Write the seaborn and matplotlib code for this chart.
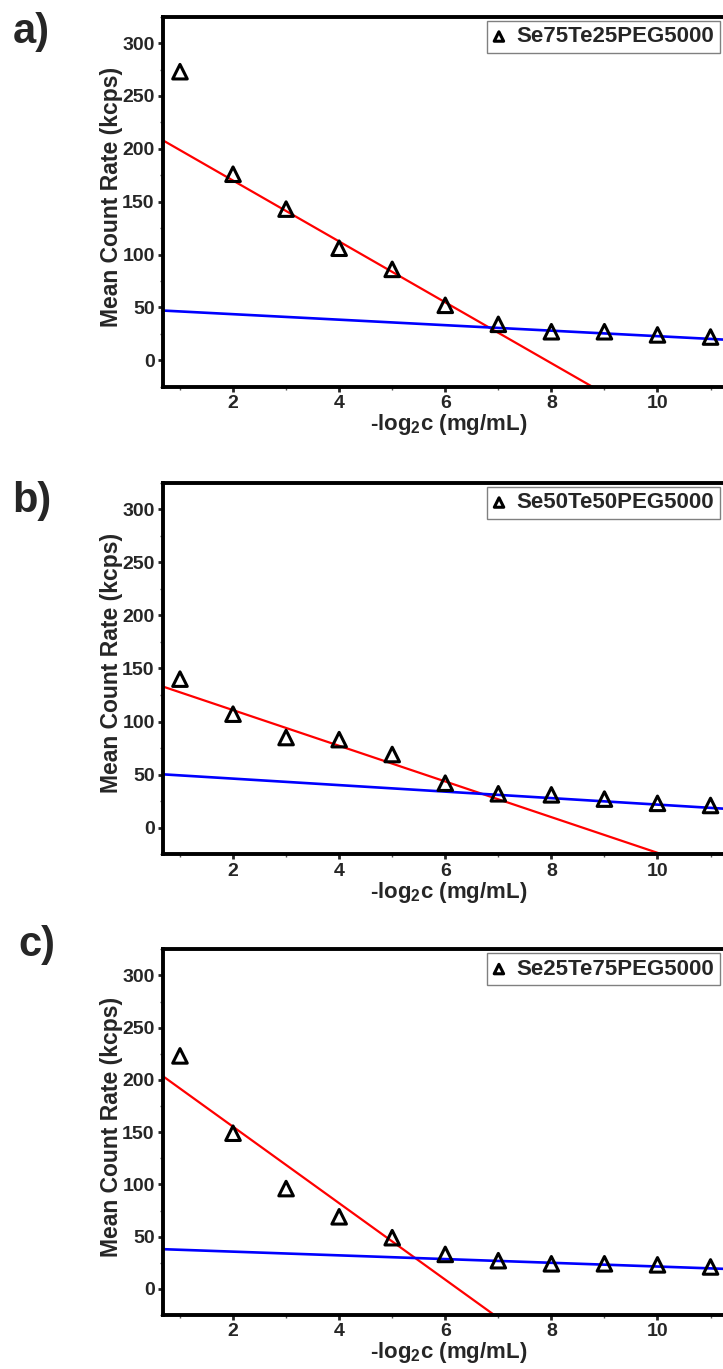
import numpy as np
import pandas as pd
import seaborn as sns
import matplotlib.pyplot as plt
from matplotlib.ticker import MultipleLocator, FixedLocator

# ----------------- data

conc_log2 = [1, 2, 3, 4, 5, 6, 7, 8, 9, 10, 11]
x_ticks = [2, 4, 6, 8, 10]

samples = ["Se75Te25PEG5000", "Se50Te50PEG5000", "Se25Te75PEG5000"]
panel_tags = ["a)", "b)", "c)"]

rate_a = [273, 176, 143, 106, 86, 52, 34, 27, 27, 24, 22]
rate_b = [140, 107, 85, 83, 69, 42, 32, 31, 27, 23, 21]
rate_c = [223, 149, 96, 69, 49, 33, 27, 24, 24, 23, 21]

# linear fits: (slope, intercept)
fit_high = [(-28.8, 227.6), (-16.8, 144.4), (-36.6, 228.4)]  # red
fit_low = [(-2.6, 48.8), (-3.06, 52.4), (-1.78, 39.2)]  # blue

# ----------------- style

sns.set_style("ticks")
plt.rcParams["font.family"] = ["Liberation Sans", "DejaVu Sans"]
plt.rcParams["font.weight"] = "bold"
plt.rcParams["mathtext.fontset"] = "custom"
plt.rcParams["mathtext.rm"] = "Liberation Sans:bold"
plt.rcParams["mathtext.bf"] = "Liberation Sans:bold"
plt.rcParams["mathtext.default"] = "bf"

W, H = 723, 1369
fig = plt.figure(figsize=(W / 100, H / 100), dpi=100)

# axes boxes in pixels: (top, bottom)
boxes = [(16.7, 386.7), (482.7, 854.3), (949.3, 1315.0)]
tag_pos = [(31, 32), (32, 501), (37, 945)]
left_px, width_px = 163, 600.6

for i, (top, bottom) in enumerate(boxes):
    ax = fig.add_axes(
        [left_px / W, 1 - bottom / H, width_px / W, (bottom - top) / H]
    )
    df = pd.DataFrame({"x": conc_log2, "y": [rate_a, rate_b, rate_c][i]})

    m, b = fit_high[i]
    ax.axline((0, b), slope=m, color="#ff0000", lw=1.6, zorder=2)
    m, b = fit_low[i]
    ax.axline((0, b), slope=m, color="#0000ff", lw=1.9, zorder=2)

    sns.scatterplot(
        data=df, x="x", y="y", ax=ax, marker="^", s=110,
        facecolor="none", edgecolor="black", linewidth=2.2,
        label=samples[i], zorder=3,
    )

    ax.set_xlim(0.68, 12)
    ax.set_ylim(-25, 325)
    ax.xaxis.set_major_locator(FixedLocator(x_ticks))
    ax.xaxis.set_minor_locator(FixedLocator([1, 3, 5, 7, 9, 11]))
    ax.yaxis.set_major_locator(MultipleLocator(50))
    ax.yaxis.set_minor_locator(MultipleLocator(25))
    ax.tick_params(which="major", direction="out", length=3.5, width=2,
                   labelsize=14, pad=2.5)
    ax.tick_params(which="minor", direction="out", length=2, width=1,
                   color="#555555")
    for lab in ax.get_xticklabels() + ax.get_yticklabels():
        lab.set_fontweight("bold")
    for sp in ax.spines.values():
        sp.set_linewidth(2.8)
        sp.set_color("black")

    ax.set_xlabel(r"-log$_2$c (mg/mL)", fontsize=16, fontweight="bold")
    ax.xaxis.set_label_coords(0.476, -0.068)
    ax.set_ylabel("Mean Count Rate (kcps)", fontsize=16.5, fontweight="bold",
                  va="center")
    ax.yaxis.set_label_coords(-0.085, 0.514)

    leg = ax.legend(
        loc="upper right", bbox_to_anchor=(0.9274, 0.989), borderaxespad=0,
        fancybox=False, framealpha=1, edgecolor="#808080",
        prop={"size": 16, "weight": "bold"}, markerscale=0.65,
        handlelength=0.6, handletextpad=0.5, borderpad=0.25,
    )
    leg.get_frame().set_linewidth(1.0)

    tx, ty = tag_pos[i]
    fig.text(tx / W, 1 - ty / H, panel_tags[i], ha="center", va="center",
             fontsize=30, fontweight="bold")

fig.savefig("out.png", dpi=100)
